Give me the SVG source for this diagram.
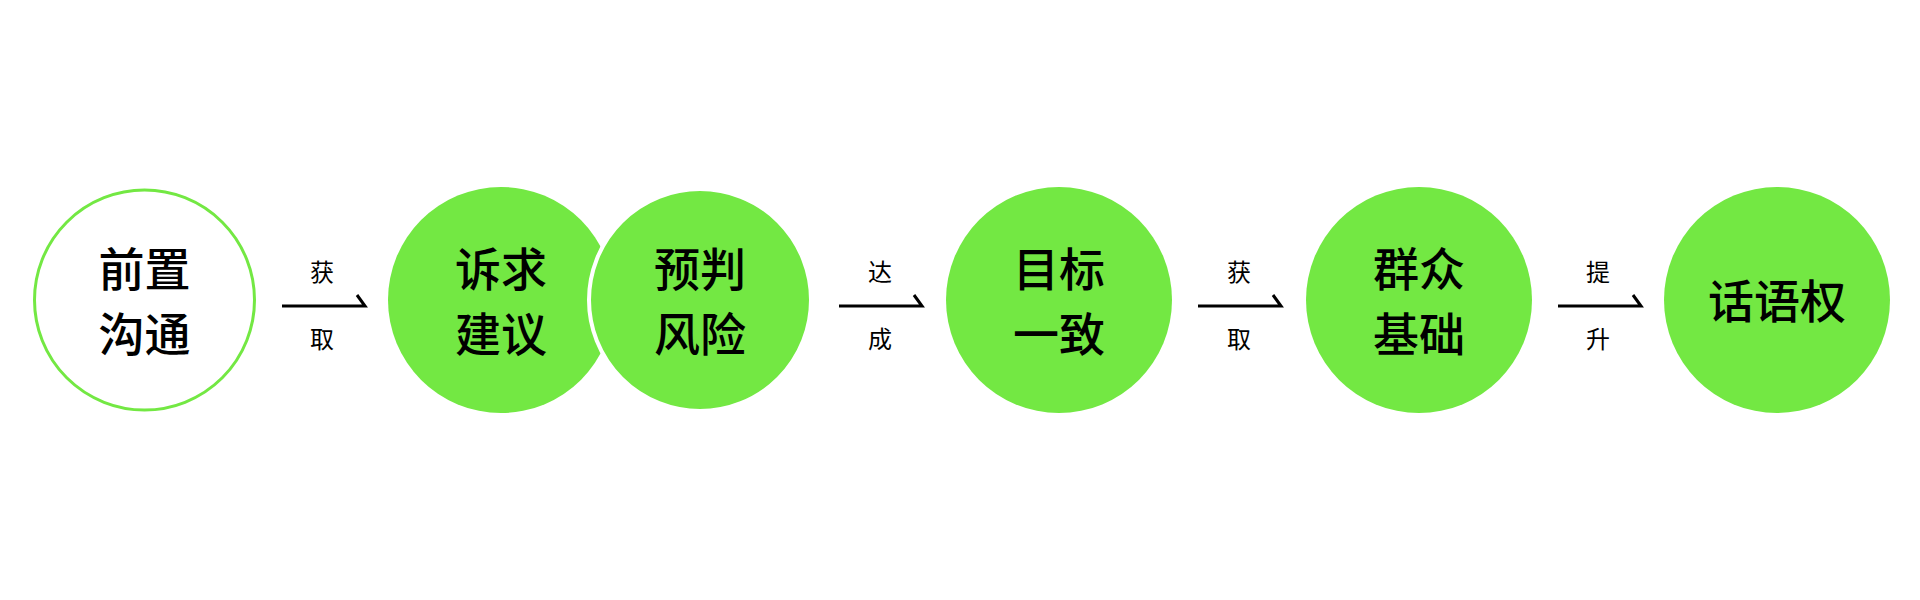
<svg xmlns="http://www.w3.org/2000/svg" width="1920" height="600" viewBox="0 0 1920 600">
<style>
.g{fill:#73E843}
.t{font-family:"Noto Sans CJK SC",sans-serif;font-weight:500;font-size:46px;fill:#000;text-anchor:middle;dominant-baseline:central}
.s{font-family:"Noto Sans CJK SC",sans-serif;font-size:24px;fill:#000;text-anchor:middle;dominant-baseline:central}
.a{fill:none;stroke:#000;stroke-width:3}
</style>
<rect width="1920" height="600" fill="#fff"/>
<g id="n1"><circle cx="144.5" cy="300" r="110" fill="#fff" stroke="#73E843" stroke-width="3"/><text class="t" x="144.5" y="266">前置</text><text class="t" x="144.5" y="331">沟通</text></g>
<g id="n2"><circle class="g" cx="501" cy="300" r="113"/><text class="t" x="501" y="266">诉求</text><text class="t" x="501" y="331">建议</text></g>
<g id="n3"><circle class="g" cx="700" cy="300" r="111" stroke="#fff" stroke-width="4"/><text class="t" x="700" y="266">预判</text><text class="t" x="700" y="331">风险</text></g>
<g id="n4"><circle class="g" cx="1059" cy="300" r="113"/><text class="t" x="1059" y="266">目标</text><text class="t" x="1059" y="331">一致</text></g>
<g id="n5"><circle class="g" cx="1419" cy="300" r="113"/><text class="t" x="1419" y="266">群众</text><text class="t" x="1419" y="331">基础</text></g>
<g id="n6"><circle class="g" cx="1777" cy="300" r="113"/><text class="t" x="1777" y="298">话语权</text></g>
<g id="connectors">
<path class="a" d="M282 306H365L357 295"/>
<path class="a" d="M839 306H922L914 295"/>
<path class="a" d="M1198 306H1281L1273 295"/>
<path class="a" d="M1558 306H1641L1633 295"/>
<text class="s" x="322" y="270">获</text><text class="s" x="322" y="337">取</text>
<text class="s" x="880" y="270">达</text><text class="s" x="880" y="337">成</text>
<text class="s" x="1239" y="270">获</text><text class="s" x="1239" y="337">取</text>
<text class="s" x="1598" y="270">提</text><text class="s" x="1598" y="337">升</text>
</g>
</svg>
